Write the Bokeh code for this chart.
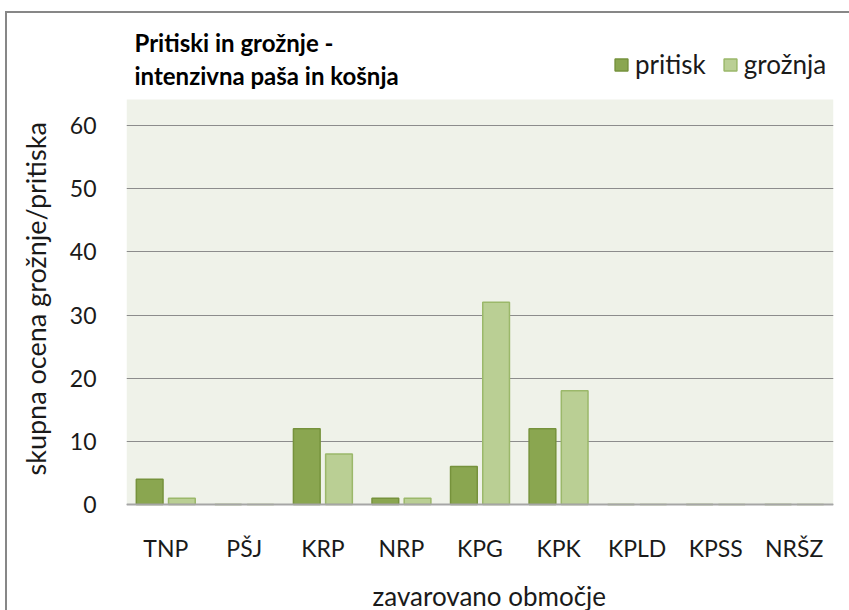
from bokeh.plotting import figure
from bokeh.models import (ColumnDataSource, FactorRange, Range1d, FixedTicker,
                          Legend, LegendItem, Label, Title)
from bokeh.transform import dodge
from bokeh.embed import file_html
from bokeh.resources import INLINE

# ---- data ----
categories = ["TNP", "PŠJ", "KRP", "NRP", "KPG", "KPK", "KPLD", "KPSS", "NRŠZ"]
pritisk = [4, 0, 12, 1, 6, 12, 0, 0, 0]
groznja = [1, 0, 8, 1, 32, 18, 0, 0, 0]
y_ticks = [0, 10, 20, 30, 40, 50, 60]
series_names = ["pritisk", "grožnja"]
title_lines = ["Pritiski in grožnje -", "intenzivna paša in košnja"]
y_title = "skupna ocena grožnje/pritiska"
x_title = "zavarovano območje"

# ---- layout constants (pixels) ----
W, H = 849, 610
FRAME_TOP = 20
ZERO_PX, Y60_PX = 504, 125      # pixel rows of the 0 and 60 gridlines
PLOT_TOP_VALUE = 64.1           # top of the shaded plot area in data units
FONT = "Lato"
TXT = "#1a1a1a"
px_per_unit = (ZERO_PX - Y60_PX) / 60
y_start = -(H - ZERO_PX) / px_per_unit
y_end = (ZERO_PX - FRAME_TOP) / px_per_unit

p = figure(width=W, height=H, x_range=FactorRange(factors=categories),
           y_range=Range1d(y_start, y_end), output_backend="svg", toolbar_location=None,
           min_border_left=126, min_border_right=16, min_border_top=FRAME_TOP,
           min_border_bottom=0)

p.border_fill_alpha = 0
p.background_fill_alpha = 0
p.outline_line_color = None
p.styles = {"background": "linear-gradient(#878787,#878787) 5px 11px / 2px 700px no-repeat, "
                          "linear-gradient(#878787,#878787) 5px 11px / 900px 2px no-repeat, #ffffff"}

# shaded plot area spanning all categories
bg = ColumnDataSource(dict(first=[categories[0]], last=[categories[-1]],
                           b=[0], t=[PLOT_TOP_VALUE]))
p.quad(left=dodge("first", -0.5, range=p.x_range), right=dodge("last", 0.5, range=p.x_range),
       bottom="b", top="t", source=bg, fill_color="#eff2e9", line_color=None,
       level="underlay")

src = ColumnDataSource(dict(cat=categories, pritisk=pritisk, groznja=groznja))
r1 = p.vbar(x=dodge("cat", -0.205, range=p.x_range), top="pritisk", width=0.34,
            source=src, fill_color="#8aa650", line_color="#76923c", line_width=1.5)
r2 = p.vbar(x=dodge("cat", 0.205, range=p.x_range), top="groznja", width=0.34,
            source=src, fill_color="#bacf94", line_color="#9bb86a", line_width=1.5)

p.xgrid.grid_line_color = None
p.ygrid.ticker = FixedTicker(ticks=y_ticks)
p.ygrid.grid_line_color = "#8c8c8c"
p.ygrid.grid_line_width = 1

p.yaxis.ticker = FixedTicker(ticks=y_ticks)
p.yaxis.axis_line_color = None
p.yaxis.major_tick_line_color = None
p.yaxis.minor_tick_line_color = None
p.yaxis.major_label_standoff = 24
p.yaxis.major_label_text_font = FONT
p.yaxis.major_label_text_font_size = "23px"
p.yaxis.major_label_text_color = TXT

# category axis pinned at value 0
p.xaxis.fixed_location = 0
p.xaxis.axis_line_color = "#a6a6a6"
p.xaxis.axis_line_width = 2
p.xaxis.major_tick_line_color = None
p.xaxis.minor_tick_line_color = None
p.xaxis.major_label_standoff = 23
p.xaxis.major_label_text_font = FONT
p.xaxis.major_label_text_font_size = "23px"
p.xaxis.major_label_text_color = TXT

# y-axis title as a side-panel title (offset from the frame bottom)
p.add_layout(Title(text=y_title, align="left", offset=H - 475, standoff=30,
                   text_font=FONT, text_font_size="27px", text_font_style="normal",
                   text_color=TXT), "left")

# x-axis title
p.add_layout(Label(x=246, y=15, x_units="screen", y_units="screen", text=x_title,
                   text_font=FONT, text_font_size="26px", text_baseline="alphabetic",
                   text_color=TXT))

legend = Legend(items=[LegendItem(label=series_names[0], renderers=[r1]),
                       LegendItem(label=series_names[1], renderers=[r2])],
                location=(487, 530), orientation="horizontal",
                border_line_color=None, background_fill_alpha=0,
                padding=0, margin=0, spacing=16, glyph_width=16, glyph_height=15,
                label_standoff=6, label_text_font=FONT, label_text_font_size="26px",
                label_text_color=TXT)
p.add_layout(legend, "center")

for i, t in enumerate(title_lines):
    p.add_layout(Label(x=8, y=568 - 33 * i, x_units="screen", y_units="screen",
                       text=t, text_font=FONT, text_font_style="bold",
                       text_font_size="24px", text_baseline="alphabetic",
                       text_color="#000000"))

with open("out.html", "w", encoding="utf-8") as f:
    f.write(file_html(p, INLINE))
